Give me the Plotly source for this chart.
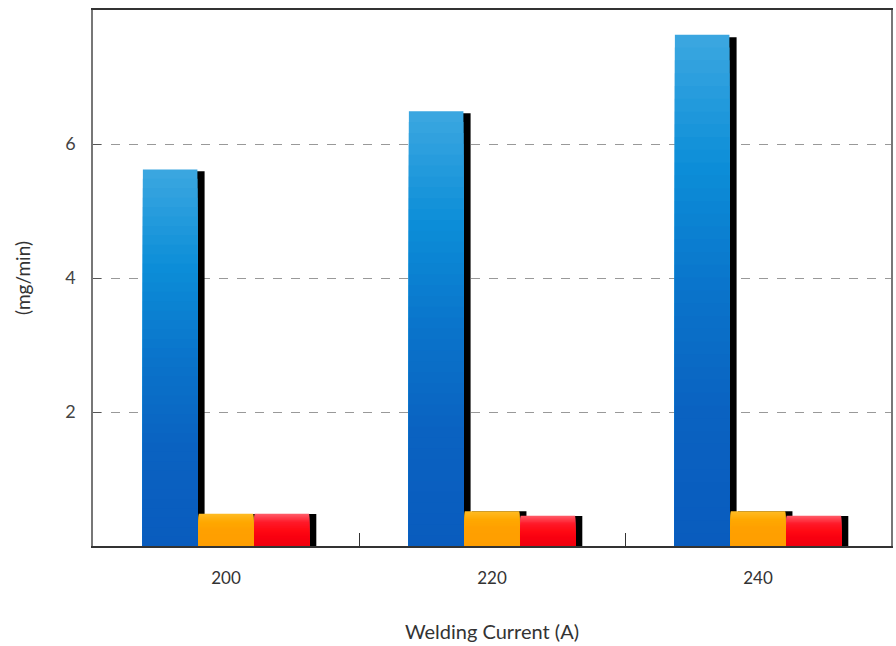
import plotly.graph_objects as go

categories = ["200", "220", "240"]
series_names = ["Series A", "Series B", "Series C"]
blue_values = [5.62, 6.49, 7.63]
orange_values = [0.48, 0.52, 0.52]
red_values = [0.48, 0.45, 0.45]
y_tick_vals = [2, 4, 6]

series = [
    (blue_values, ["#3aa6e0", "#0c8ed8", "#0a74cb", "#0a62c1", "#095cbe"], -0.3125),
    (orange_values, ["#ffbb22", "#ffa800", "#ffa000", "#ff9f00", "#ff9e00"], -0.1025),
    (red_values, ["#ff5a66", "#ff1a2a", "#ff0a14", "#f80010", "#f0000e"], 0.1075),
]
BAR_W = 0.205
SHADOW_DX = 0.027
N = 40


def hex2rgb(h):
    h = h.lstrip("#")
    return [int(h[i:i + 2], 16) for i in (0, 2, 4)]


def interp(stops, t):
    pos = t * (len(stops) - 1)
    i = min(int(pos), len(stops) - 2)
    f = pos - i
    a, b = hex2rgb(stops[i]), hex2rgb(stops[i + 1])
    c = [round(a[k] + (b[k] - a[k]) * f) for k in range(3)]
    return "rgb(%d,%d,%d)" % tuple(c)


fig = go.Figure()
for idx, (vals, stops, off) in enumerate(series):
    fig.add_trace(go.Bar(
        x=categories, y=[v * 0.995 for v in vals], width=BAR_W, offset=off + SHADOW_DX,
        marker=dict(color="black", line=dict(width=0)), showlegend=False, hoverinfo="skip"))
    for k in range(N):
        frac = 1 - k / N
        fig.add_trace(go.Bar(
            x=categories, y=[v * frac for v in vals], width=BAR_W, offset=off,
            marker=dict(color=interp(stops, k / (N - 1)), line=dict(width=0)),
            name=series_names[idx], showlegend=False,
            hoverinfo="skip" if k else "x+y"))

fig.update_layout(
    barmode="overlay",
    width=896, height=646,
    margin=dict(l=93, r=3, t=10, b=100),
    paper_bgcolor="white", plot_bgcolor="white",
    font=dict(family="Lato, 'Open Sans', sans-serif", color="#333333", size=15),
    showlegend=False,
)
fig.update_xaxes(
    type="category", range=[-0.5, 2.5],
    showline=True, linecolor="#333333", linewidth=1.5, mirror=True,
    ticks="inside", tickson="boundaries", ticklen=13, tickcolor="#333333", tickwidth=1.2,
    showgrid=False,
    ticklabelstandoff=16,
    tickfont=dict(size=17, color="#333333"),
    title=dict(text="Welding Current (A)", font=dict(size=20, color="#333333"), standoff=38),
)
fig.update_yaxes(
    range=[0, 8],
    tickvals=y_tick_vals, ticktext=[str(v) for v in y_tick_vals],
    showline=True, linecolor="#777777", linewidth=1.5, mirror=True,
    ticks="inside", ticklen=8, tickcolor="#555555",
    showgrid=True, gridcolor="#999999", griddash="dash", gridwidth=1,
    zeroline=False,
    ticklabelstandoff=12,
    tickfont=dict(size=18, color="#444444"),
    title=dict(text="(mg/min)", font=dict(size=19, color="#333333"), standoff=30),
)

fig.write_html(
    "out.html",
    config={"displayModeBar": False},
    post_script="document.body.style.margin='0px';document.body.style.overflow='hidden';",
)
